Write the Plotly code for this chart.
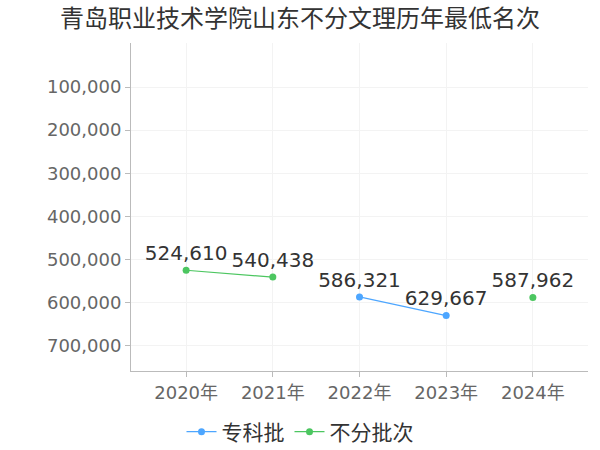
import plotly.graph_objects as go

years = ["2020年", "2021年", "2022年", "2023年", "2024年"]
zhuanke = [None, None, 586321, 629667, None]
bufen = [524610, 540438, None, None, 587962]
y_ticks = [100000, 200000, 300000, 400000, 500000, 600000, 700000]

fig = go.Figure()
for name, vals, color in [("专科批", zhuanke, "#4da6ff"), ("不分批次", bufen, "#4cc660")]:
    fig.add_trace(go.Scatter(
        x=years, y=vals, name=name,
        mode="lines+markers+text",
        line=dict(color=color, width=1.2),
        marker=dict(color=color, size=7),
        text=[f"{v:,}" if v is not None else "" for v in vals],
        textposition="top center",
        textfont=dict(size=20, color="#333333"),
        connectgaps=False,
    ))

fig.update_layout(
    width=600, height=450,
    margin=dict(l=131, r=12, t=43, b=79),
    paper_bgcolor="white", plot_bgcolor="white",
    font=dict(family="DejaVu Sans, Noto Sans CJK SC, sans-serif"),
    title=dict(text="青岛职业技术学院山东不分文理历年最低名次", x=0.5, y=0.958,
               xanchor="center", yanchor="middle",
               font=dict(size=24, color="#333333",
                         family="Noto Sans CJK SC, sans-serif")),
    showlegend=True,
    legend=dict(orientation="h", xref="container", x=0.5, xanchor="center",
                yref="container", y=0.04, yanchor="middle",
                font=dict(size=21, color="#333333",
                          family="Noto Sans CJK SC, sans-serif"),
                itemwidth=30, tracegroupgap=0),
    xaxis=dict(
        type="category", range=[-0.636, 4.636], automargin=False,
        showgrid=True, gridcolor="#f3f3f3",
        showline=True, linecolor="#bbbbbb",
        ticks="outside", ticklen=5, tickcolor="#bbbbbb",
        tickfont=dict(size=18, color="#666666"),
        zeroline=False,
    ),
    yaxis=dict(
        range=[758000, -2000], automargin=False,
        tickvals=y_ticks, tickformat=",",
        showgrid=True, gridcolor="#f3f3f3",
        showline=True, linecolor="#bbbbbb",
        ticks="outside", ticklen=5, tickcolor="#bbbbbb",
        tickfont=dict(size=18, color="#666666"),
        zeroline=False,
    ),
)

# page body has a default 8px margin; drop it so the chart sits at 0,0
fig.write_html("out.html", config={"displayModeBar": False},
               post_script="document.body.style.margin='0';")
